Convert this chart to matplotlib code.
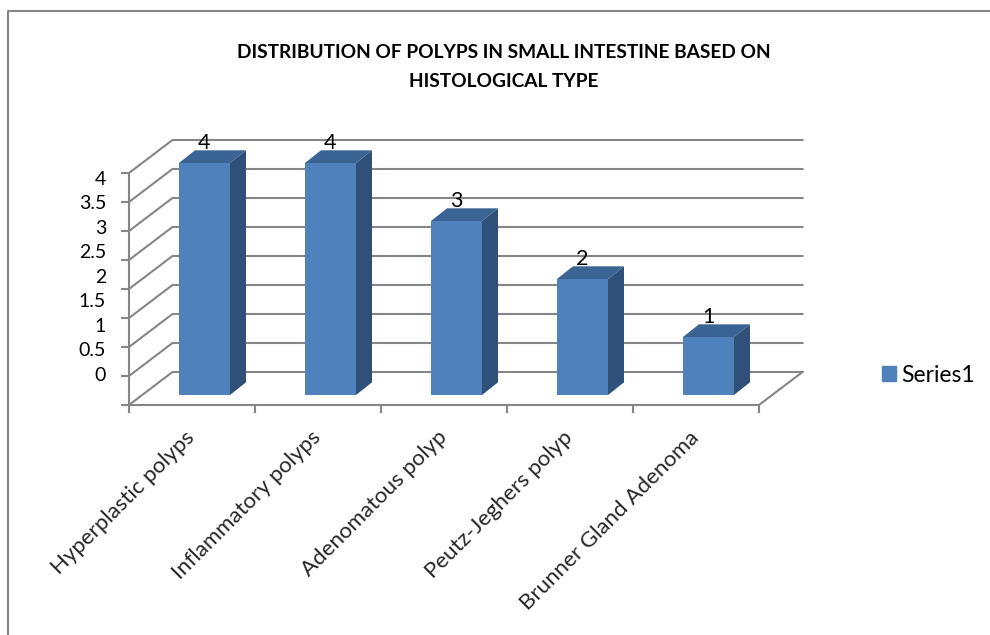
import numpy as np
import matplotlib
matplotlib.use("Agg")
import matplotlib.pyplot as plt
from matplotlib.lines import Line2D
from matplotlib.patches import Polygon
from matplotlib.transforms import ScaledTranslation

# Chart data
categories = ["Hyperplastic polyps", "Inflammatory polyps", "Adenomatous polyp",
              "Peutz-Jeghers polyp", "Brunner Gland Adenoma"]
counts = [4, 4, 3, 2, 1]
y_ticks = [0, 0.5, 1, 1.5, 2, 2.5, 3, 3.5, 4]
y_tick_labels = ["0", "0.5", "1", "1.5", "2", "2.5", "3", "3.5", "4"]
series_name = "Series1"
title = "DISTRIBUTION OF POLYPS IN SMALL INTESTINE BASED ON\nHISTOLOGICAL TYPE"

plt.rcParams["font.family"] = ["Lato", "DejaVu Sans"]

W, H = 990, 635
GRID = "#868686"
FRONT = "#4F81BD"
SIDE = "#2F5179"
TOP = "#3A6494"

fig = plt.figure(figsize=(W / 100, H / 100), dpi=100)

# axes = the front plane of the fake 3d box
ax = fig.add_axes([129 / W, (H - 405) / H, 630 / W, 232 / H])
ax.set_xlim(-0.5, 4.5)
ax.set_ylim(0, 4)
ax.patch.set_visible(False)

# depth of the box and the bars, in data units
wall_dx, wall_dy = 0.345, 0.569
bar_dx, bar_dy = 0.127, 0.219
shift_x, shift_y = 0.099, 0.172
bar_w = 0.405

for s in ["top", "right"]:
    ax.spines[s].set_visible(False)
for s in ["left", "bottom"]:
    ax.spines[s].set_color(GRID)
    ax.spines[s].set_linewidth(1.5)

# walls and floor
x_left, x_right = -0.5, 4.5
for v in y_ticks:
    ax.plot([x_left, x_left + wall_dx, x_right + wall_dx], [v, v + wall_dy, v + wall_dy],
            color=GRID, lw=1.5, clip_on=False, zorder=1)
ax.plot([x_right, x_right + wall_dx], [0, wall_dy], color=GRID, lw=1.5, clip_on=False, zorder=1)

# bars
x = np.arange(len(categories))
bars = ax.bar(x + shift_x, counts, width=bar_w, bottom=shift_y, color=FRONT,
              clip_on=False, zorder=3)
for xi, v in zip(x, counts):
    x0 = xi + shift_x - bar_w / 2
    x1 = xi + shift_x + bar_w / 2
    y0 = shift_y
    y1 = shift_y + v
    ax.add_patch(Polygon([(x1, y0), (x1 + bar_dx, y0 + bar_dy), (x1 + bar_dx, y1 + bar_dy), (x1, y1)],
                         closed=True, color=SIDE, lw=0, clip_on=False, zorder=3))
    ax.add_patch(Polygon([(x0, y1), (x0 + bar_dx, y1 + bar_dy), (x1 + bar_dx, y1 + bar_dy), (x1, y1)],
                         closed=True, color=TOP, lw=0, clip_on=False, zorder=3))
    ax.text(xi + shift_x, y1 + bar_dy + 0.13, str(v), ha="center", va="center",
            fontsize=15.5, color="black", zorder=4)

# ticks
ax.set_xticks(np.arange(-0.5, 5, 1))
ax.set_xticklabels([])
ax.set_xticks(x, minor=True)
ax.set_xticklabels(categories, minor=True, rotation=45, ha="right", va="top",
                   rotation_mode="anchor", fontsize=16, color="#262626")
ax.tick_params(axis="x", which="major", length=6, width=1.5, color=GRID)
ax.tick_params(axis="x", which="minor", length=0, pad=16)
# nudge the rotated labels left, they end just past the slot centre
nudge = ScaledTranslation(-7.5 / 100, 0, fig.dpi_scale_trans)
for lab in ax.get_xticklabels(minor=True):
    lab.set_transform(lab.get_transform() + nudge)
ax.set_yticks(y_ticks)
ax.set_yticklabels([])
ax.tick_params(axis="y", length=6, width=1.5, color=GRID)

# the y labels sit off their ticks in the original, squeezed upward
for v, lab in zip(y_ticks, y_tick_labels):
    ax.text(-0.682, 0.515 + v * 0.845, lab, ha="right", va="center", fontsize=14, color="black")

# legend
handle = plt.Rectangle((0, 0), 1, 1, color=FRONT)
fig.legend([handle], [series_name], loc="center left", bbox_to_anchor=(861 / W, (H - 375) / H),
           frameon=False, fontsize=16.5, handlelength=0.61, handleheight=0.61, handletextpad=0.26)

# title
fig.text(504 / W, (H - 67) / H, title, ha="center", va="center", fontsize=13.75,
         fontweight="bold", linespacing=1.85, color="black")

# chart border (only top and left show in the crop)
fig.add_artist(Line2D([8 / W, 8 / W, 1], [0, (H - 11) / H, (H - 11) / H], color=GRID, lw=1.5))

fig.savefig("out.png", dpi=100)
